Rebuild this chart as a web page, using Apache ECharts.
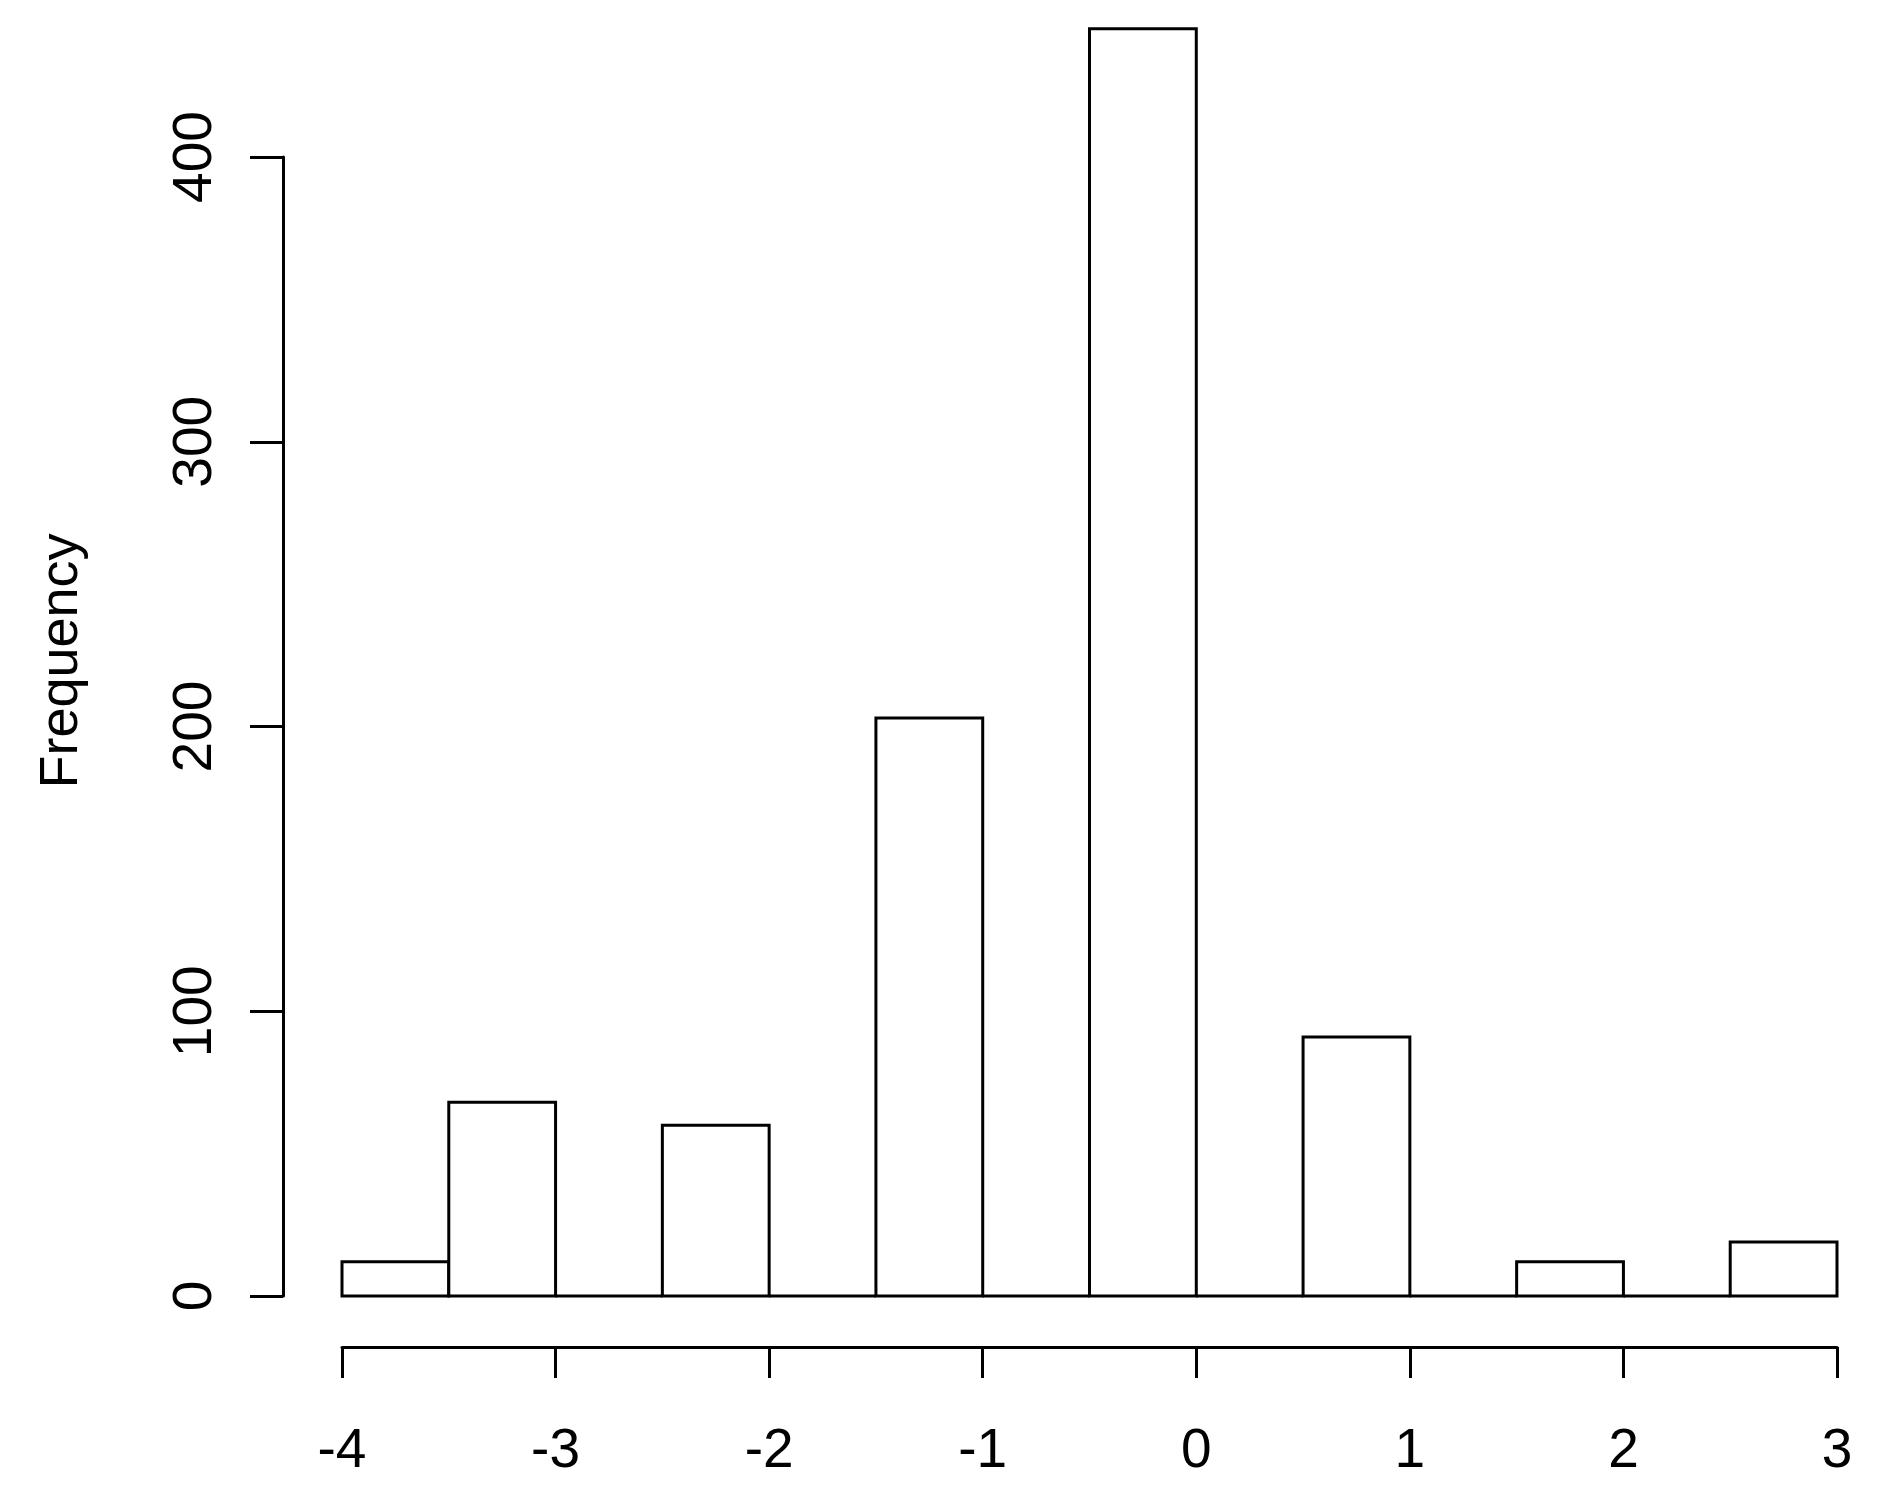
<!DOCTYPE html>
<html>
<head>
<meta charset="utf-8">
<script src="https://cdn.jsdelivr.net/npm/echarts@6/dist/echarts.min.js"></script>
<style>
    html, body { margin: 0; padding: 0; background: #fff; }
    #hist { width: 1895px; height: 1504px; }
</style>
</head>
<body>
<div id="hist"></div>
<script>
// histogram bins (left edge, right edge) and their counts
var binStart = [-4, -3.5, -3, -2.5, -2, -1.5, -1, -0.5, 0, 0.5, 1, 1.5, 2, 2.5];
var binEnd = [-3.5, -3, -2.5, -2, -1.5, -1, -0.5, 0, 0.5, 1, 1.5, 2, 2.5, 3];
var counts = [12, 68, 0, 60, 0, 203, 0, 445, 0, 91, 0, 12, 0, 19];
var xTicks = [-4, -3, -2, -1, 0, 1, 2, 3];
var yTicks = [0, 100, 200, 300, 400];
var yLabel = 'Frequency';

var font = '"Liberation Sans", Arial, sans-serif';

var histData = binStart.map(function (s, i) {
    return [s, binEnd[i], counts[i]];
});

var myChart = echarts.init(document.getElementById('hist'));
var option = {
    backgroundColor: '#fff',
    animation: false,
    textStyle: { fontFamily: font, color: '#000' },
    grid: [
        // bars
        { left: 342, right: 58, top: 157, bottom: 208 },
        // y axis (drawn only from 0 to 400)
        { left: 283, width: 10, top: 157, bottom: 208 },
        // x axis below the bars
        { left: 342, right: 58, top: 1300, bottom: 157 }
    ],
    xAxis: [
        { gridIndex: 0, type: 'value', min: xTicks[0], max: xTicks[xTicks.length - 1], show: false },
        { gridIndex: 1, type: 'value', show: false },
        {
            gridIndex: 2,
            type: 'value',
            position: 'bottom',
            min: xTicks[0],
            max: xTicks[xTicks.length - 1],
            interval: 1,
            axisLine: { show: true, lineStyle: { color: '#000', width: 3 } },
            axisTick: { show: true, inside: false, length: 31, lineStyle: { color: '#000', width: 3 } },
            splitLine: { show: false },
            axisLabel: {
                margin: 77,
                fontSize: 55,
                color: '#000',
                fontFamily: font,
                showMinLabel: true,
                showMaxLabel: true,
                formatter: function (v) { return String(v); }
            }
        }
    ],
    yAxis: [
        { gridIndex: 0, type: 'value', min: yTicks[0], max: yTicks[yTicks.length - 1], show: false },
        {
            gridIndex: 1,
            type: 'value',
            position: 'left',
            min: yTicks[0],
            max: yTicks[yTicks.length - 1],
            interval: 100,
            axisLine: { show: true, lineStyle: { color: '#000', width: 3 } },
            axisTick: { show: true, inside: false, length: 33, lineStyle: { color: '#000', width: 3 } },
            splitLine: { show: false },
            axisLabel: {
                rotate: 90,
                margin: 60,
                fontSize: 55,
                color: '#000',
                fontFamily: font
            }
        },
        { gridIndex: 2, type: 'value', show: false }
    ],
    graphic: [
        {
            type: 'text',
            x: 62,
            y: 661,
            rotation: Math.PI / 2,
            style: {
                text: yLabel,
                fontSize: 54,
                fontFamily: font,
                fill: '#000',
                textAlign: 'center',
                textVerticalAlign: 'middle'
            }
        }
    ],
    series: [
        {
            type: 'custom',
            xAxisIndex: 0,
            yAxisIndex: 0,
            clip: false,
            data: histData,
            renderItem: function (params, api) {
                var p0 = api.coord([api.value(0), 0]);
                var p1 = api.coord([api.value(1), api.value(2)]);
                return {
                    type: 'rect',
                    shape: { x: p0[0], y: p1[1], width: p1[0] - p0[0], height: p0[1] - p1[1] },
                    style: { fill: '#fff', stroke: '#000', lineWidth: 3 }
                };
            }
        }
    ]
};
myChart.setOption(option);
</script>
</body>
</html>
